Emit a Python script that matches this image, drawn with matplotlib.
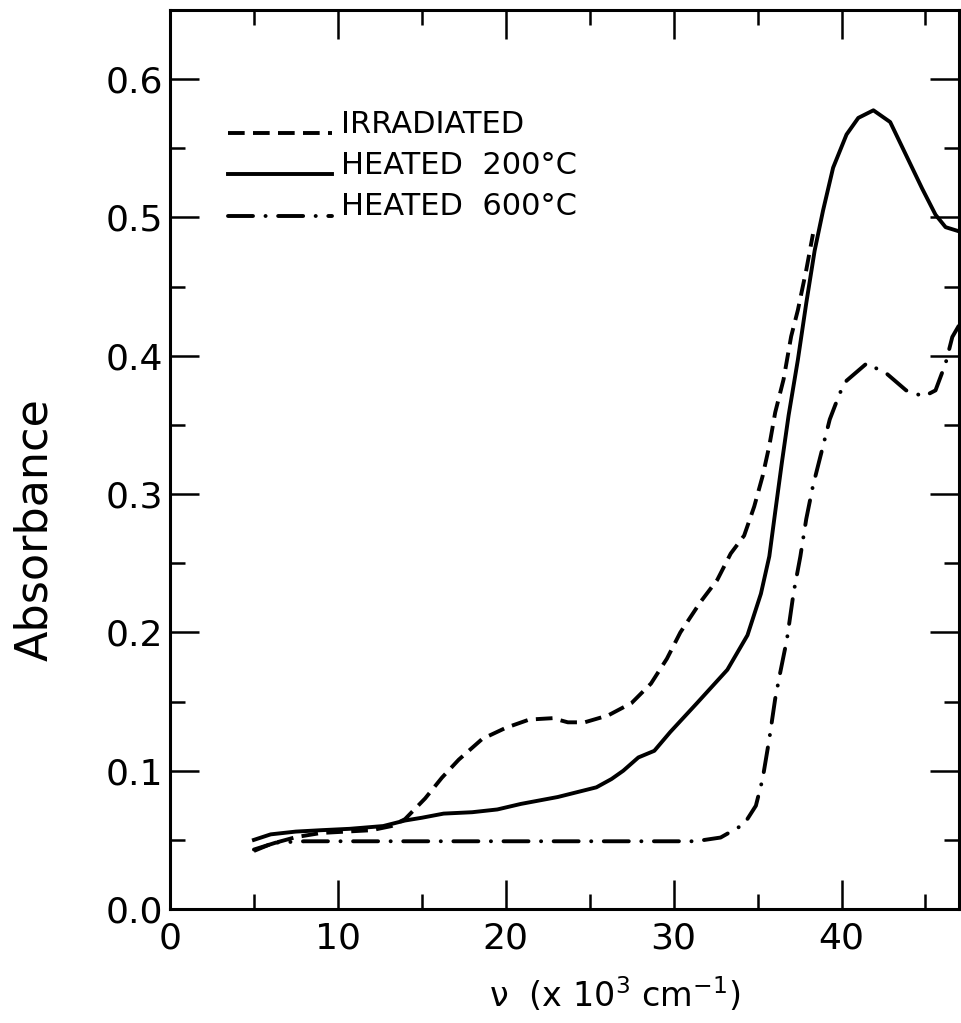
import matplotlib
matplotlib.use('Agg')
import matplotlib.pyplot as plt
from matplotlib.ticker import MultipleLocator, FormatStrFormatter
from matplotlib.transforms import ScaledTranslation

# absorbance spectra (x in 10^3 cm^-1)
irr_x = [5.0, 6.0, 7.5, 9.0, 10.5, 12.0, 13.2, 14.0, 15.2, 16.2, 17.2, 18.6, 20.0,
         21.4, 22.8, 23.7, 24.7, 26.1, 27.5, 28.65, 29.6, 30.4, 31.6, 32.6, 33.4,
         34.2, 34.8, 35.3, 35.7, 36.05, 36.55, 37.0, 37.4, 37.9, 38.3]
irr_y = [0.042, 0.047, 0.052, 0.055, 0.056, 0.057, 0.060, 0.065, 0.080, 0.095, 0.108,
         0.123, 0.131, 0.137, 0.138, 0.135, 0.135, 0.140, 0.149, 0.163, 0.181, 0.200,
         0.222, 0.238, 0.257, 0.270, 0.291, 0.313, 0.335, 0.359, 0.383, 0.414, 0.433,
         0.462, 0.488]

h200_x = [5.0, 6.0, 7.5, 9.0, 10.7, 12.7, 14.0, 15.0, 16.3, 18.0, 19.5, 20.9, 23.1,
          25.4, 26.3, 27.0, 27.9, 28.85, 29.8, 31.4, 33.2, 34.4, 35.2, 35.7, 36.05,
          36.45, 36.85, 37.4, 37.9, 38.4, 38.9, 39.5, 40.3, 41.0, 41.9, 42.9, 43.85,
          44.8, 45.6, 46.2, 47.0]
h200_y = [0.050, 0.054, 0.056, 0.057, 0.058, 0.060, 0.064, 0.066, 0.069, 0.070, 0.072,
          0.076, 0.081, 0.088, 0.094, 0.100, 0.1096, 0.1144, 0.128, 0.149, 0.173, 0.198,
          0.228, 0.255, 0.287, 0.323, 0.357, 0.397, 0.438, 0.476, 0.505, 0.536, 0.560,
          0.572, 0.5775, 0.569, 0.545, 0.521, 0.502, 0.493, 0.490]

h600_x = [5.0, 6.3, 8.0, 31.3, 32.8, 34.2, 34.9, 35.3, 35.7, 36.05, 36.35, 36.75,
          37.15, 37.55, 37.9, 38.3, 38.8, 39.3, 39.9, 40.3, 41.5, 42.7, 43.85, 44.9,
          45.6, 46.2, 46.6, 47.0]
h600_y = [0.043, 0.048, 0.049, 0.049, 0.0517, 0.0614, 0.0747, 0.094, 0.123, 0.152,
          0.171, 0.195, 0.229, 0.255, 0.282, 0.306, 0.330, 0.354, 0.373, 0.382, 0.3945,
          0.387, 0.375, 0.3706, 0.375, 0.3945, 0.4136, 0.422]

labels = ['IRRADIATED', 'HEATED  200°C', 'HEATED  600°C']

plt.rcParams['font.family'] = ['DejaVu Sans']
plt.rcParams['mathtext.default'] = 'regular'
plt.rcParams['lines.scale_dashes'] = False

fig = plt.figure(figsize=(9.62, 10.23), dpi=100)
ax = fig.add_axes([0.1767, 0.1114, 0.8202, 0.8788])

lw = 2.8
ax.plot(irr_x, irr_y, color='black', lw=lw, dashes=(12, 6), label=labels[0])
ax.plot(h200_x, h200_y, color='black', lw=lw, label=labels[1])
ax.plot(h600_x, h600_y, color='black', lw=lw, dashes=(18, 9, 0.1, 9),
        dash_capstyle='round', label=labels[2])

ax.set_xlim(0, 47)
ax.set_ylim(0, 0.65)
ax.xaxis.set_major_locator(MultipleLocator(10))
ax.xaxis.set_minor_locator(MultipleLocator(5))
ax.yaxis.set_major_locator(MultipleLocator(0.1))
ax.yaxis.set_minor_locator(MultipleLocator(0.05))
ax.xaxis.set_major_formatter(FormatStrFormatter('%d'))
ax.yaxis.set_major_formatter(FormatStrFormatter('%.1f'))

ax.tick_params(which='both', direction='in', top=True, right=True, width=1.8,
               labelsize=26)
ax.tick_params(which='major', length=21)
ax.tick_params(which='minor', length=11)
ax.tick_params(axis='x', pad=9)
ax.tick_params(axis='y', pad=5)
for s in ax.spines.values():
    s.set_linewidth(2.2)

ax.set_ylabel('Absorbance', fontsize=32, va='center')
ax.yaxis.set_label_coords(-0.172, 0.4216)
ax.set_xlabel(r'$\nu$  (x 10$^{3}$ cm$^{-1}$)', fontsize=24, va='center')
ax.xaxis.set_label_coords(0.564, -0.0957)

leg = ax.legend(loc='upper left', bbox_to_anchor=(0.0735, 0.889), frameon=False,
                fontsize=22, handlelength=3.4, handletextpad=0.3, labelspacing=0.4,
                borderpad=0, borderaxespad=0)
# legend samples sit on the text baseline, like an underline
for line in leg.get_lines():
    line.set_transform(line.get_transform() +
                       ScaledTranslation(0, -8 / 72, fig.dpi_scale_trans))

# the 0.0 label sits on the bottom axis line in the original
fig.canvas.draw()
ax.yaxis.get_major_ticks()[0].label1.set_verticalalignment('baseline')

fig.savefig('out.png', dpi=100)
